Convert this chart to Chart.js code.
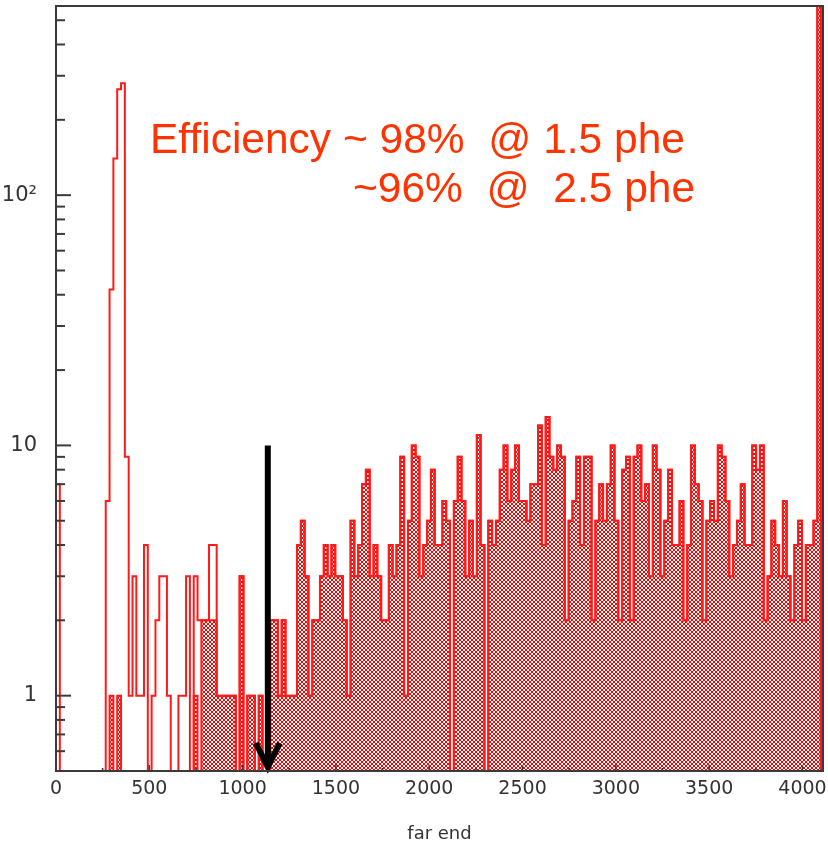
<!DOCTYPE html>
<html>
<head>
<meta charset="utf-8">
<script src="https://cdn.jsdelivr.net/npm/chart.js@4.4.0/dist/chart.umd.min.js"></script>
<style>
    html, body { margin: 0; padding: 0; background: #fff; }
    #chart { display: block; }
</style>
</head>
<body>
<canvas id="chart" width="828" height="846"></canvas>
<script>
// histogram: 200 bins of 20.5 channels starting at 0
const binWidth = 20.5;

// all events (open outline)
const counts = [
    7, 0, 0, 0, 0, 0, 0, 0, 0, 0,
    0, 0, 0, 6, 42, 140, 265, 280, 9, 1,
    3, 1, 1, 4, 0, 1, 2, 3, 3, 1,
    0, 0, 1, 1, 3, 0, 3, 2, 2, 2,
    4, 4, 1, 1, 1, 1, 1, 0, 3, 0,
    1, 1, 0, 1, 0, 0, 2, 2, 1, 2,
    1, 1, 1, 4, 5, 3, 1, 2, 2, 3,
    4, 3, 4, 3, 3, 2, 1, 5, 3, 4,
    7, 8, 3, 4, 3, 2, 2, 4, 3, 4,
    9, 1, 5, 10, 9, 3, 4, 5, 8, 4,
    4, 6, 5, 0, 6, 9, 6, 3, 5, 3,
    11, 4, 0, 5, 4, 5, 8, 10, 6, 8,
    10, 6, 6, 5, 7, 7, 12, 4, 13, 9,
    8, 10, 9, 2, 5, 6, 9, 4, 9, 9,
    2, 5, 7, 5, 7, 10, 5, 2, 8, 9,
    2, 9, 10, 6, 7, 3, 10, 8, 3, 5,
    8, 4, 4, 6, 2, 4, 10, 7, 6, 2,
    5, 6, 5, 10, 9, 6, 3, 4, 5, 7,
    4, 4, 10, 8, 10, 2, 3, 5, 4, 3,
    6, 3, 2, 4, 5, 2, 4, 4, 5, 800
];

// selected events (hatched), first 61 bins; above that it follows the outline
const cutCountsLow = [
    0, 0, 0, 0, 0, 0, 0, 0, 0, 0,
    0, 0, 0, 0, 1, 0, 1, 0, 0, 0,
    0, 0, 0, 0, 0, 0, 0, 0, 0, 0,
    0, 0, 0, 0, 0, 0, 1, 0, 2, 2,
    2, 2, 1, 1, 1, 1, 1, 0, 3, 0,
    1, 1, 0, 1, 0, 0, 2, 2, 1, 2,
    1
];
const cutCounts = cutCountsLow.concat(counts.slice(cutCountsLow.length));

const xTicks = [0, 250, 500, 750, 1000, 1250, 1500, 1750, 2000, 2250, 2500, 2750, 3000, 3250, 3500, 3750, 4000];
const xLabelStep = 500;
const yTicks = [0.6, 0.7, 0.8, 0.9, 1, 2, 3, 4, 5, 6, 7, 8, 9, 10, 20, 30, 40, 50, 60, 70, 80, 90, 100, 200, 300, 400, 500];
const yLabels = { 1: '1', 10: '10', 100: '10\u00b2' };

const arrowX = 1135;
const arrowTop = 10;
const noteLines = ['Efficiency ~ 98%  @ 1.5 phe', '~96%  @  2.5 phe'];

const floorVal = 0.1; // empty bins, below the visible range

function toSteps(vals) {
    let pts = [{ x: 0, y: floorVal }];
    vals.forEach((v, k) => {
        pts.push({ x: k * binWidth, y: v > 0 ? v : floorVal });
    });
    pts.push({ x: vals.length * binWidth, y: floorVal });
    return pts;
}

function hatchPattern() {
    let tile = document.createElement('canvas');
    tile.width = 4;
    tile.height = 4;
    let t = tile.getContext('2d');
    t.fillStyle = '#ff0000';
    for (let i = 0; i < 4; i++) {
        t.fillRect(i, i, 1, 1);
        t.fillRect(3 - i, i, 1, 1);
    }
    return document.getElementById('chart').getContext('2d').createPattern(tile, 'repeat');
}

function line(ctx, x1, y1, x2, y2) {
    ctx.beginPath();
    ctx.moveTo(x1, y1);
    ctx.lineTo(x2, y2);
    ctx.stroke();
}

const decorations = {
    id: 'decorations',
    afterDatasetsDraw(chart) {
        const ctx = chart.ctx;
        const a = chart.chartArea;
        const xs = chart.scales.x;
        const ys = chart.scales.y;
        ctx.save();

        // arrow
        const ax = xs.getPixelForValue(arrowX);
        ctx.strokeStyle = '#000';
        ctx.lineWidth = 6;
        line(ctx, ax, ys.getPixelForValue(arrowTop), ax, a.bottom - 3);
        ctx.lineJoin = 'miter';
        ctx.beginPath();
        ctx.moveTo(ax - 12, a.bottom - 28);
        ctx.lineTo(ax, a.bottom - 4);
        ctx.lineTo(ax + 12, a.bottom - 28);
        ctx.stroke();

        // frame
        ctx.strokeStyle = '#3a3a3a';
        ctx.lineWidth = 2;
        ctx.strokeRect(a.left, a.top, a.right - a.left, a.bottom - a.top);

        // inward tick marks
        ctx.lineWidth = 2;
        yTicks.forEach((v) => {
            const py = ys.getPixelForValue(v);
            line(ctx, a.left, py, a.left + (yLabels[v] ? 15 : 9), py);
        });
        ctx.lineWidth = 1.5;
        xTicks.forEach((v) => {
            const px = xs.getPixelForValue(v);
            line(ctx, px, a.bottom, px, a.bottom - (v % xLabelStep === 0 ? 6 : 3));
        });

        // efficiency note
        ctx.fillStyle = '#ff3300';
        ctx.font = '42.5px "Liberation Sans", Arial, sans-serif';
        ctx.textAlign = 'left';
        ctx.textBaseline = 'alphabetic';
        ctx.fillText(noteLines[0], 150, 153);
        ctx.fillText(noteLines[1], 353, 202);

        ctx.restore();
    }
};

new Chart(document.getElementById('chart'), {
    type: 'line',
    data: {
        datasets: [{
            data: toSteps(cutCounts),
            stepped: 'before',
            borderColor: '#ff1a1a',
            borderWidth: 2,
            backgroundColor: hatchPattern(),
            fill: 'start',
            pointRadius: 0
        }, {
            data: toSteps(counts),
            stepped: 'before',
            borderColor: '#ff1a1a',
            borderWidth: 2,
            fill: false,
            pointRadius: 0
        }]
    },
    options: {
        responsive: false,
        animation: false,
        layout: { padding: { top: 6, right: 5, left: 0, bottom: 0 } },
        plugins: {
            legend: { display: false },
            tooltip: { enabled: false }
        },
        scales: {
            x: {
                type: 'linear',
                min: 0,
                max: 4110,
                grid: { display: false, drawTicks: false },
                border: { display: false },
                afterBuildTicks: (scale) => {
                    scale.ticks = xTicks.map((v) => ({ value: v }));
                },
                afterFit: (scale) => {
                    scale.height = 75;
                    scale.paddingLeft = 0;
                    scale.paddingRight = 0;
                },
                ticks: {
                    autoSkip: false,
                    maxRotation: 0,
                    padding: 7,
                    color: '#333',
                    font: { family: '"DejaVu Sans"', size: 19 },
                    callback: (v) => (v % xLabelStep === 0 ? String(v) : '')
                },
                title: {
                    display: true,
                    text: 'far end',
                    color: '#333',
                    font: { family: '"DejaVu Sans"', size: 18 },
                    padding: { top: 0, bottom: 1 }
                }
            },
            y: {
                type: 'logarithmic',
                min: 0.5,
                max: 570,
                grid: { display: false, drawTicks: false },
                border: { display: false },
                afterBuildTicks: (scale) => {
                    scale.ticks = yTicks.map((v) => ({ value: v }));
                },
                afterFit: (scale) => {
                    scale.width = 56;
                    scale.paddingTop = 0;
                    scale.paddingBottom = 0;
                },
                ticks: {
                    autoSkip: false,
                    padding: 19,
                    color: '#333',
                    font: { family: '"DejaVu Sans"', size: 21 },
                    callback: (v) => yLabels[v] || ''
                }
            }
        }
    },
    plugins: [decorations]
});
</script>
</body>
</html>
